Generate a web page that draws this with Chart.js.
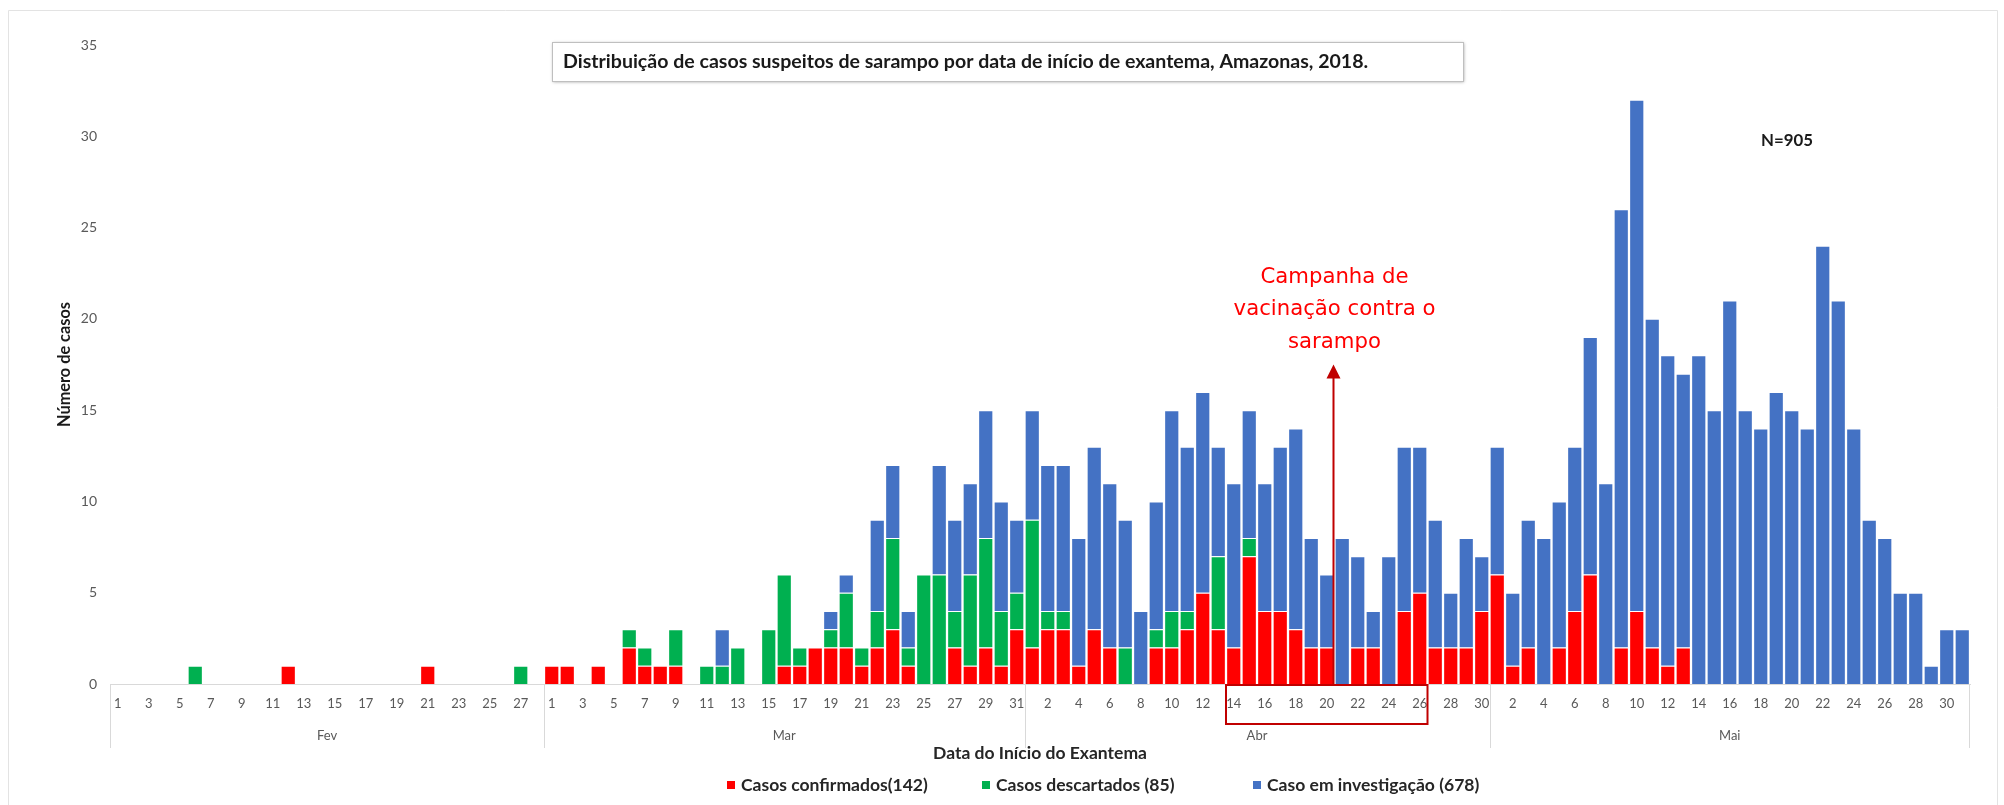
<!DOCTYPE html>
<html><head><meta charset="utf-8">
<script src="https://cdn.jsdelivr.net/npm/chart.js@4.4.1/dist/chart.umd.min.js"></script>
<style>html,body{margin:0;padding:0;background:#fff;overflow:hidden}canvas{display:block}</style>
</head><body>
<canvas id="c" width="2004" height="805"></canvas>
<script>
// ---- categories ----
const months = ['Fev', 'Mar', 'Abr', 'Mai'];
const monthDays = [28, 31, 30, 31];

// ---- series: Casos confirmados ----
const confFev = [0,0,0,0,0,0,0,0,0,0,0,1,0,0,0,0,0,0,0,0,1,0,0,0,0,0,0,0];
const confMar = [1,1,0,1,0,2,1,1,1,0,0,0,0,0,0,1,1,2,2,2,1,2,3,1,0,0,2,1,2,1,3];
const confAbr = [2,3,3,1,3,2,0,0,2,2,3,5,3,2,7,4,4,3,2,2,0,2,2,0,4,5,2,2,2,4];
const confMai = [6,1,2,0,2,4,6,0,2,4,2,1,2,0,0,0,0,0,0,0,0,0,0,0,0,0,0,0,0,0,0];

// ---- series: Casos descartados ----
const descFev = [0,0,0,0,0,1,0,0,0,0,0,0,0,0,0,0,0,0,0,0,0,0,0,0,0,0,1,0];
const descMar = [0,0,0,0,0,1,1,0,2,0,1,1,2,0,3,5,1,0,1,3,1,2,5,1,6,6,2,5,6,3,2];
const descAbr = [7,1,1,0,0,0,2,0,1,2,1,0,4,0,1,0,0,0,0,0,0,0,0,0,0,0,0,0,0,0];
const descMai = [0,0,0,0,0,0,0,0,0,0,0,0,0,0,0,0,0,0,0,0,0,0,0,0,0,0,0,0,0,0,0];

// ---- series: Caso em investigação ----
const invFev = [0,0,0,0,0,0,0,0,0,0,0,0,0,0,0,0,0,0,0,0,0,0,0,0,0,0,0,0];
const invMar = [0,0,0,0,0,0,0,0,0,0,0,2,0,0,0,0,0,0,1,1,0,5,4,2,0,6,5,5,7,6,4];
const invAbr = [6,8,8,7,10,9,7,4,7,11,9,11,6,9,7,7,9,11,6,4,8,5,2,7,9,8,7,3,6,3];
const invMai = [7,4,7,8,8,9,13,11,24,28,18,17,15,18,15,21,15,14,16,15,14,24,21,14,9,8,5,5,1,3,3];

const seriesNames = ['Casos confirmados(142)', 'Casos descartados (85)', 'Caso em investigação (678)'];
const seriesColors = ['#FF0000', '#00B050', '#4472C4'];
const yTicks = [0, 5, 10, 15, 20, 25, 30, 35];
const chartTitle = 'Distribuição de casos suspeitos de sarampo por data de início de exantema, Amazonas, 2018.';
const nLabel = 'N=905';
const annotationLines = ['Campanha de', 'vacinação contra o', 'sarampo'];
const campaignDay = { month: 'Abr', day: 20 };
const highlightRange = { month: 'Abr', from: 14, to: 26 };

// build category labels
const labels = [];
months.forEach((m, mi) => { for (let d = 1; d <= monthDays[mi]; d++) labels.push(String(d)); });
function indexOf(month, day) { let i = 0; for (let k = 0; k < months.length; k++) { if (months[k] === month) return i + day - 1; i += monthDays[k]; } return -1; }

const confirmados = [...confFev, ...confMar, ...confAbr, ...confMai];
const descartados = [...descFev, ...descMar, ...descAbr, ...descMai];
const investigacao = [...invFev, ...invMar, ...invAbr, ...invMai];

// text fitting helper
const mctx = document.createElement('canvas').getContext('2d');
function fitSize(text, target, weight, family) {
  mctx.font = weight + ' 100px ' + family;
  return 100 * target / mctx.measureText(text).width;
}
const FAM = 'Lato, "Open Sans", sans-serif';
const titleSize = fitSize(chartTitle, 806, 'bold', FAM);
const nSize = fitSize(nLabel, 52, 'bold', FAM);
const annSize = fitSize(annotationLines[1], 202, 'normal', '"DejaVu Sans"');
const legSize = fitSize(seriesNames[0], 187, 'bold', FAM);
const xTitleSize = fitSize('Data do Início do Exantema', 214, 'bold', FAM);
const yTitleSize = fitSize('Número de casos', 125, 'bold', FAM);
const legendX = [727, 982, 1253];

const overlay = {
  id: 'overlay',
  afterDraw(chart) {
    const ctx = chart.ctx, x = chart.scales.x, y = chart.scales.y, ca = chart.chartArea;
    const w = x.getPixelForValue(1) - x.getPixelForValue(0);
    ctx.save();
    // outer frame
    ctx.strokeStyle = '#e3e3e3'; ctx.lineWidth = 1;
    ctx.beginPath(); ctx.moveTo(8.5, 805); ctx.lineTo(8.5, 10.5); ctx.lineTo(1997.5, 10.5); ctx.lineTo(1997.5, 805); ctx.stroke();

    // title box
    ctx.save();
    ctx.shadowColor = 'rgba(0,0,0,0.35)'; ctx.shadowBlur = 3; ctx.shadowOffsetX = 1; ctx.shadowOffsetY = 1;
    ctx.fillStyle = '#fff'; ctx.fillRect(552, 42, 911, 39);
    ctx.restore();
    ctx.strokeStyle = '#bfbfbf'; ctx.strokeRect(552.5, 42.5, 911, 39);
    ctx.fillStyle = '#1a1a1a'; ctx.font = 'bold ' + titleSize + 'px ' + FAM;
    ctx.textAlign = 'left'; ctx.textBaseline = 'middle';
    ctx.fillText(chartTitle, 563, 62);

    // N label
    ctx.font = 'bold ' + nSize + 'px ' + FAM;
    ctx.fillText(nLabel, 1761, 141);

    // month separators and labels
    ctx.strokeStyle = '#d9d9d9'; ctx.lineWidth = 1;
    ctx.fillStyle = '#595959'; ctx.font = '13px ' + FAM; ctx.textAlign = 'center';
    let start = 0;
    months.forEach((m, mi) => {
      const left = x.getPixelForValue(start) - w / 2;
      const right = x.getPixelForValue(start + monthDays[mi] - 1) + w / 2;
      ctx.beginPath(); ctx.moveTo(Math.round(left) + 0.5, ca.bottom); ctx.lineTo(Math.round(left) + 0.5, 748); ctx.stroke();
      if (mi === months.length - 1) { ctx.beginPath(); ctx.moveTo(Math.round(right) - 0.5, ca.bottom); ctx.lineTo(Math.round(right) - 0.5, 748); ctx.stroke(); }
      ctx.fillText(m, (left + right) / 2, 736);
      start += monthDays[mi];
    });

    // highlight rectangle
    const hi0 = indexOf(highlightRange.month, highlightRange.from), hi1 = indexOf(highlightRange.month, highlightRange.to);
    const rl = x.getPixelForValue(hi0) - w / 2, rr = x.getPixelForValue(hi1) + w / 2;
    ctx.strokeStyle = '#C00000'; ctx.lineWidth = 2;
    ctx.strokeRect(rl, ca.bottom + 1, rr - rl, 39);

    // arrow
    const ci = indexOf(campaignDay.month, campaignDay.day);
    const ax = (x.getPixelForValue(ci) + x.getPixelForValue(ci + 1)) / 2 - 1;
    const tipY = y.getPixelForValue(17.5);
    ctx.strokeStyle = '#C00000'; ctx.lineWidth = 2;
    ctx.beginPath(); ctx.moveTo(ax, ca.bottom); ctx.lineTo(ax, tipY + 12); ctx.stroke();
    ctx.fillStyle = '#C00000';
    ctx.beginPath(); ctx.moveTo(ax, tipY); ctx.lineTo(ax - 7, tipY + 14); ctx.lineTo(ax + 7, tipY + 14); ctx.closePath(); ctx.fill();

    // annotation text
    ctx.fillStyle = '#FF0000'; ctx.font = annSize + 'px "DejaVu Sans"'; ctx.textAlign = 'center'; ctx.textBaseline = 'middle';
    annotationLines.forEach((t, i) => ctx.fillText(t, ax + 1, 277 + i * 32.5));

    // legend
    ctx.font = 'bold ' + legSize + 'px ' + FAM; ctx.textAlign = 'left';
    chart.data.datasets.forEach((ds, i) => {
      const lx = legendX[i];
      ctx.fillStyle = ds.backgroundColor;
      ctx.fillRect(lx, 781, 8, 8);
      ctx.fillStyle = '#262626';
      ctx.fillText(ds.label, lx + 14, 785);
    });
    ctx.restore();
  }
};

new Chart(document.getElementById('c'), {
  type: 'bar',
  data: {
    labels: labels,
    datasets: [
      { label: seriesNames[0], data: confirmados, backgroundColor: seriesColors[0] },
      { label: seriesNames[1], data: descartados, backgroundColor: seriesColors[1] },
      { label: seriesNames[2], data: investigacao, backgroundColor: seriesColors[2] }
    ].map(d => Object.assign(d, { borderColor: '#ffffff', borderWidth: 1, barPercentage: 0.98, categoryPercentage: 1 }))
  },
  options: {
    responsive: false,
    animation: false,
    devicePixelRatio: 1,
    layout: { padding: { left: 40, right: 34, top: 45, bottom: 41 } },
    plugins: { legend: { display: false }, tooltip: { enabled: false }, title: { display: false } },
    scales: {
      x: {
        stacked: true,
        afterFit: (s) => { s.height = 80; },
        grid: { display: false, drawTicks: false },
        border: { display: true, color: '#d9d9d9', width: 1 },
        ticks: {
          autoSkip: false, maxRotation: 0, minRotation: 0, padding: 12,
          color: '#595959', font: { size: 13, family: FAM },
          callback: (v, i) => (i % 2 === 0 ? labels[i] : '')
        },
        title: { display: true, text: 'Data do Início do Exantema', color: '#262626',
                 font: { size: xTitleSize, weight: 'bold', family: FAM }, padding: { top: 20, bottom: 0 } }
      },
      y: {
        stacked: true, min: 0, max: 35,
        afterFit: (s) => { s.width = 70; },
        afterBuildTicks: (s) => { s.ticks = yTicks.map(v => ({ value: v })); },
        grid: { display: false, drawTicks: false },
        border: { display: false },
        ticks: { color: '#595959', font: { size: 14, family: FAM }, padding: 13 },
        title: { display: true, text: 'Número de casos', color: '#1a1a1a',
                 font: { size: yTitleSize, weight: 'bold', family: FAM }, padding: { top: 15, bottom: 0 } }
      }
    }
  },
  plugins: [overlay]
});
</script>
</body></html>
